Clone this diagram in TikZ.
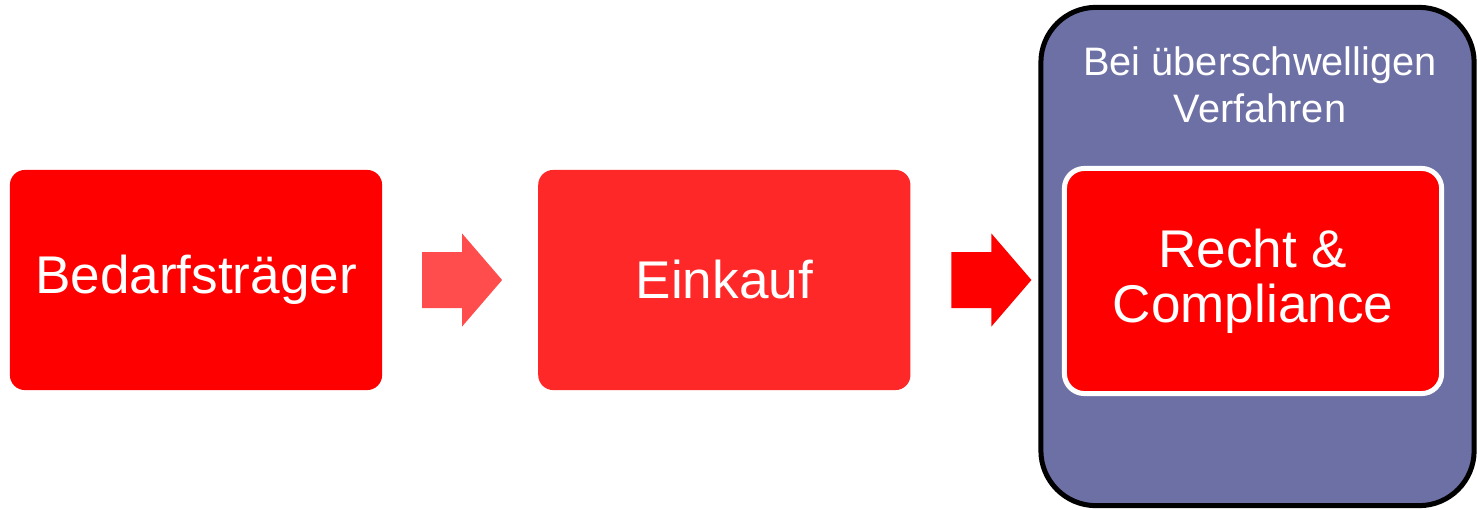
\documentclass[tikz,border=0pt]{standalone}
\usepackage{fontspec}
\setmainfont{Liberation Sans}
\usetikzlibrary{positioning,calc}

\definecolor{stagered}{RGB}{255,0,0}
\definecolor{buyred}{RGB}{255,40,40}
\definecolor{arrowred}{RGB}{255,77,77}
\definecolor{groupblue}{RGB}{109,112,165}

\begin{document}
\begin{tikzpicture}[
  x=0.01cm, y=-0.01cm,
  stage/.style={
    fill=#1,
    text=white,
    rounded corners=0.15cm,
    minimum width=3.72cm,
    minimum height=2.2cm,
    outer sep=0pt,
    align=center,
    font=\fontsize{15.1}{15.6}\selectfont
  },
  group/.style={
    draw=black,
    line width=0.05cm,
    fill=groupblue,
    rounded corners=0.55cm,
    minimum width=4.33cm,
    minimum height=4.98cm
  },
  grouplabel/.style={
    text=white,
    align=center,
    inner sep=0pt,
    font=\fontsize{11.3}{13.5}\selectfont
  },
  blockarrow/.style={fill=#1}
]

\useasboundingbox (0,0) rectangle (1477,509);

\node[stage=stagered] (bed) at (196,280) {Bedarfsträger};
\node[stage=buyred, right=1.56cm of bed] (einkauf) {Einkauf};

\node[group] (uesv) at (1257.5,256.5) {};
\node[grouplabel] (uesvlabel) at (1260,85) {Bei überschwelligen\\Verfahren};
\node[stage=stagered, draw=white, line width=0.05cm, rounded corners=0.2cm,
      minimum width=3.77cm, minimum height=2.25cm] (recht) at (1253,281) {Recht \&\\Compliance};

% block arrows sit in the gaps, they touch no box
\coordinate (arr1) at ($(bed.east)+(40,0)$);
\coordinate (arr2) at ($(einkauf.east)+(41,0)$);
\fill[blockarrow=arrowred] (arr1) ++(0,-28) -- ++(40,0) -- ++(0,-18.5) -- ++(40,46.5)
  -- ++(-40,46.5) -- ++(0,-18.5) -- ++(-40,0) -- cycle;
\fill[blockarrow=stagered] (arr2) ++(0,-28) -- ++(40,0) -- ++(0,-18.5) -- ++(40,46.5)
  -- ++(-40,46.5) -- ++(0,-18.5) -- ++(-40,0) -- cycle;

\end{tikzpicture}
\end{document}
